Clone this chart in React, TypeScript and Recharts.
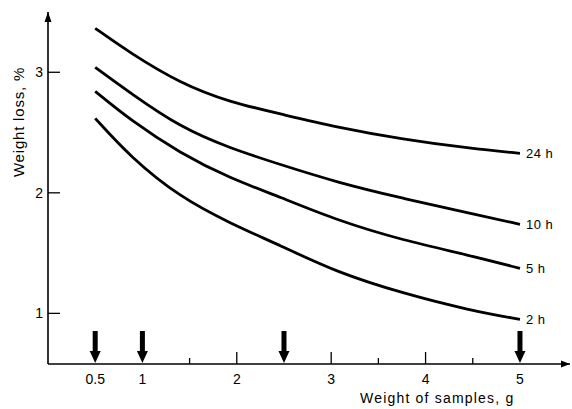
import { ComposedChart, Line, Scatter, XAxis, YAxis, ReferenceDot } from 'recharts';

// sample weight, g
const sampleWeights = [0.5, 0.875, 1.4, 1.93, 2.46, 3.06, 3.76, 4.47, 5.0];

// weight loss, %
const loss24h = [3.365, 3.158, 2.909, 2.751, 2.655, 2.544, 2.444, 2.369, 2.328];
const loss10h = [3.041, 2.826, 2.544, 2.369, 2.235, 2.087, 1.954, 1.83, 1.739];
const loss5h = [2.842, 2.602, 2.328, 2.12, 1.965, 1.772, 1.606, 1.481, 1.373];
const loss2h = [2.618, 2.295, 1.963, 1.747, 1.564, 1.34, 1.166, 1.025, 0.95];

const xTicks = [0.5, 1, 1.5, 2, 3, 3.5, 4, 4.5, 5];
const xTickLabels: Record<number, string> = { 0.5: '0.5', 1: '1', 2: '2', 3: '3', 4: '4', 5: '5' };
const yTicks = [1, 2, 3];
const arrowMarks = [0.5, 1, 2.5, 5];

const X_MAX = 5.53;
const Y_MIN = 0.58;
const Y_MAX = 3.5;

const series = [
  { key: 'h24', name: '24 h', values: loss24h },
  { key: 'h10', name: '10 h', values: loss10h },
  { key: 'h5', name: '5 h', values: loss5h },
  { key: 'h2', name: '2 h', values: loss2h },
];

const data = sampleWeights.map((w, i) => ({
  w,
  h24: loss24h[i],
  h10: loss10h[i],
  h5: loss5h[i],
  h2: loss2h[i],
}));

const arrowData = arrowMarks.map((w) => ({ w, y: Y_MIN }));

const FONT = '"Liberation Sans", Arial, sans-serif';

const XTick = ({ x, y, payload }: any) => {
  const label = xTickLabels[payload.value];
  const major = payload.value === 2 || payload.value === 3 || payload.value === 4;
  const minor = !label;
  return (
    <g>
      {(major || minor) && (
        <line x1={x} y1={y} x2={x} y2={y - (major ? 12 : 6)} stroke="#000" strokeWidth={1.3} />
      )}
      {label && (
        <text x={x} y={y + 20} textAnchor="middle" fontSize={14} fontFamily={FONT} fill="#000">
          {label}
        </text>
      )}
    </g>
  );
};

const YTick = ({ x, y, payload }: any) => (
  <g>
    <line x1={x} y1={y} x2={x + 12} y2={y} stroke="#000" strokeWidth={1.3} />
    <text x={x - 5} y={y + 5} textAnchor="end" fontSize={14} fontFamily={FONT} fill="#000">
      {payload.value}
    </text>
  </g>
);

const DownArrow = ({ cx, cy }: any) => (
  <g>
    <rect x={cx - 2.5} y={cy - 33} width={5} height={22} fill="#000" />
    <polygon points={`${cx - 5.5},${cy - 13} ${cx + 5.5},${cy - 13} ${cx},${cy - 1}`} fill="#000" />
  </g>
);

const endLabel = (name: string) => (props: any) => {
  const { x, y, index } = props;
  if (index !== sampleWeights.length - 1) return null;
  return (
    <text x={x + 6} y={y + 5} fontSize={13} fontFamily={FONT} fill="#000" letterSpacing={0.5}>
      {name}
    </text>
  );
};

export default function App() {
  return (
    <div style={{ position: 'absolute', left: 0, top: 0, width: 572, height: 409, background: '#fff' }}>
      <ComposedChart width={572} height={409} data={data} margin={{ top: 12, right: 2, bottom: 44, left: 47 }}>
        <XAxis
          dataKey="w"
          type="number"
          domain={[0, X_MAX]}
          ticks={xTicks}
          tick={<XTick />}
          tickSize={0}
          tickMargin={0}
          tickLine={false}
          height={1}
          axisLine={{ stroke: '#000', strokeWidth: 1.6 }}
          allowDataOverflow
          interval={0}
        />
        <YAxis
          type="number"
          domain={[Y_MIN, Y_MAX]}
          ticks={yTicks}
          tick={<YTick />}
          tickSize={0}
          tickMargin={0}
          tickLine={false}
          width={1}
          axisLine={{ stroke: '#000', strokeWidth: 1.6 }}
          allowDataOverflow
          interval={0}
        />
        {series.map((s) => (
          <Line
            key={s.key}
            type="basis"
            dataKey={s.key}
            stroke="#000"
            strokeWidth={2.8}
            dot={false}
            activeDot={false}
            isAnimationActive={false}
            label={endLabel(s.name)}
          />
        ))}
        <Scatter data={arrowData} dataKey="y" shape={<DownArrow />} isAnimationActive={false} />
        <ReferenceDot
          x={X_MAX}
          y={Y_MIN}
          ifOverflow="visible"
          shape={(p: any) => (
            <polygon points={`${p.cx - 9},${p.cy - 3.5} ${p.cx - 9},${p.cy + 3.5} ${p.cx},${p.cy}`} fill="#000" />
          )}
        />
        <ReferenceDot
          x={0}
          y={Y_MAX}
          ifOverflow="visible"
          shape={(p: any) => (
            <polygon points={`${p.cx - 3.5},${p.cy + 10} ${p.cx + 3.5},${p.cy + 10} ${p.cx},${p.cy}`} fill="#000" />
          )}
        />
      </ComposedChart>
      <div
        style={{
          position: 'absolute',
          left: 18,
          top: 122,
          transform: 'translate(-50%, -50%) rotate(-90deg)',
          whiteSpace: 'nowrap',
          fontFamily: FONT,
          fontSize: 15,
          letterSpacing: 0.8,
        }}
      >
        Weight loss, %
      </div>
      <div
        style={{
          position: 'absolute',
          left: 360,
          top: 390,
          whiteSpace: 'nowrap',
          fontFamily: FONT,
          fontSize: 14,
          letterSpacing: 1.2,
        }}
      >
        Weight of samples, g
      </div>
    </div>
  );
}
